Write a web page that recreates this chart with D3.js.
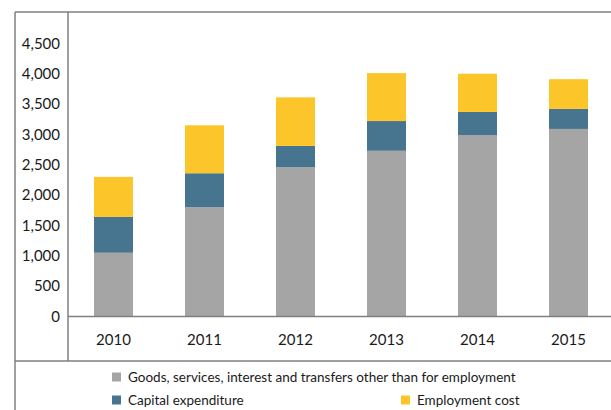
<!DOCTYPE html>
<html>
<head>
<meta charset="utf-8">
<script src="https://cdn.jsdelivr.net/npm/d3@7"></script>
<style>
  html, body { margin: 0; padding: 0; background: #fff; }
  svg { display: block; font-family: Lato, "Open Sans", sans-serif; }
</style>
</head>
<body>
<svg id="chart" width="611" height="410"></svg>
<script>
// Budget composition by year
const years = ["2010", "2011", "2012", "2013", "2014", "2015"];
const goodsServices = [1050, 1800, 2460, 2730, 2990, 3090];
const capitalExpenditure = [590, 560, 350, 490, 380, 330];
const employmentCost = [660, 790, 800, 790, 630, 490];
const yTicks = [0, 500, 1000, 1500, 2000, 2500, 3000, 3500, 4000, 4500];

const seriesNames = [
  "Goods, services, interest and transfers other than for employment",
  "Capital expenditure",
  "Employment cost"
];
const seriesKeys = ["goods", "capital", "employment"];
const colors = ["#a5a5a5", "#47758f", "#fcc62b"];

const rows = years.map((y, i) => ({
  year: y,
  goods: goodsServices[i],
  capital: capitalExpenditure[i],
  employment: employmentCost[i]
}));

const svg = d3.select("#chart");
const W = 611, H = 410;
const frameLeft = 15, frameTop = 12;
const plotLeft = 68, plotRight = 614;
const axisBottom = 361;

const x = d3.scaleBand()
  .domain(years)
  .range([plotLeft, plotRight])
  .paddingInner(0.5714)
  .paddingOuter(0.2857);

const y = d3.scaleLinear()
  .domain([0, 5000])
  .range([316.5, 13]);

const stack = d3.stack().keys(seriesKeys);
const stacked = stack(rows);

// stacked bars
svg.append("g")
  .selectAll("g")
  .data(stacked)
  .join("g")
  .attr("fill", (d, i) => colors[i])
  .selectAll("rect")
  .data(d => d)
  .join("rect")
  .attr("x", d => x(d.data.year))
  .attr("width", x.bandwidth())
  .attr("y", d => y(d[1]))
  .attr("height", d => y(d[0]) - y(d[1]));

// table-style frame lines
const lineColor = "#7f7f7f";
const frame = svg.append("g")
  .attr("stroke", lineColor)
  .attr("stroke-width", 1.5)
  .attr("fill", "none");
frame.append("line").attr("x1", frameLeft).attr("x2", W).attr("y1", frameTop).attr("y2", frameTop);
frame.append("line").attr("x1", frameLeft).attr("x2", frameLeft).attr("y1", frameTop).attr("y2", H);
frame.append("line").attr("x1", plotLeft).attr("x2", plotLeft).attr("y1", frameTop).attr("y2", axisBottom);
frame.append("line").attr("x1", frameLeft).attr("x2", W).attr("y1", axisBottom).attr("y2", axisBottom);
frame.append("line").attr("x1", plotLeft).attr("x2", W).attr("y1", y(0)).attr("y2", y(0));

// y axis labels
const yAxis = d3.axisLeft(y)
  .tickValues(yTicks)
  .tickSize(0)
  .tickPadding(8)
  .tickFormat(d3.format(","));
svg.append("g")
  .attr("transform", `translate(${plotLeft},0)`)
  .call(yAxis)
  .call(g => g.select(".domain").remove())
  .call(g => g.selectAll("text")
    .attr("fill", "#1a1a1a")
    .style("font-family", "Lato, 'Open Sans', sans-serif")
    .style("font-size", "15px"));

// x axis labels
const xAxis = d3.axisBottom(x).tickSize(0).tickPadding(0);
svg.append("g")
  .attr("transform", `translate(0,${y(0)})`)
  .call(xAxis)
  .call(g => g.select(".domain").remove())
  .call(g => g.selectAll("text")
    .attr("dy", null)
    .attr("y", 28)
    .attr("fill", "#1a1a1a")
    .style("font-family", "Lato, 'Open Sans', sans-serif")
    .style("font-size", "15px"));

// legend
const legendItems = [
  { name: seriesNames[0], color: colors[0], x: 112, y: 377 },
  { name: seriesNames[1], color: colors[1], x: 112, y: 400 },
  { name: seriesNames[2], color: colors[2], x: 401, y: 400 }
];
const legend = svg.append("g");
const li = legend.selectAll("g")
  .data(legendItems)
  .join("g")
  .attr("transform", d => `translate(${d.x},${d.y})`);
li.append("rect")
  .attr("x", 0).attr("y", -4.5)
  .attr("width", 9).attr("height", 9)
  .attr("fill", d => d.color);
li.append("text")
  .attr("x", 16)
  .attr("y", 0)
  .attr("dy", "0.35em")
  .attr("fill", "#1a1a1a")
  .style("font-size", "13.5px")
  .text(d => d.name);
</script>
</body>
</html>
